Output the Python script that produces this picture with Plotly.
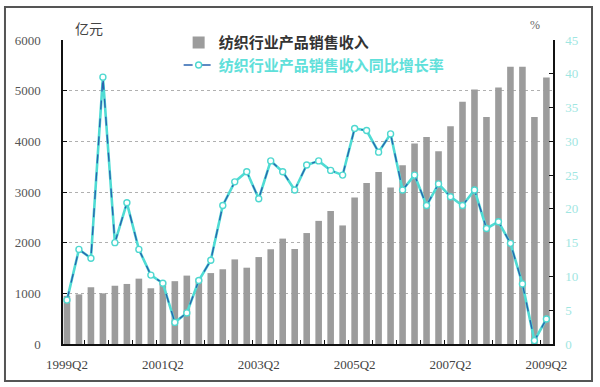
import plotly.graph_objects as go

quarters = [f"{y}Q{q}" for y in range(1999, 2010) for q in range(1, 5)][1:42]
sales = [950, 980, 1120, 1000, 1150, 1185, 1290, 1100, 1230, 1240,
         1350, 1290, 1400, 1475, 1670, 1506, 1716, 1870, 2080, 1875,
         2190, 2430, 2625, 2340, 2890, 3180, 3395, 3090, 3530, 3957,
         4087, 3804, 4298, 4780, 5024, 4482, 5063, 5470, 5470, 4482, 5261]
growth = [6.5, 14.0, 12.7, 39.5, 15.0, 20.9, 14.0, 10.2, 9.0, 3.2,
          4.6, 9.4, 12.4, 20.5, 24.0, 25.5, 21.5, 27.1, 25.5, 22.8,
          26.5, 27.1, 25.7, 25.0, 31.9, 31.6, 28.4, 31.1, 22.8, 25.0,
          20.5, 23.7, 21.8, 20.5, 22.8, 17.1, 18.1, 14.9, 8.9, 0.5, 3.7]
tick_labels = ["1999Q2", "2001Q2", "2003Q2", "2005Q2", "2007Q2", "2009Q2"]
name_sales = "纺织行业产品销售收入"
name_growth = "纺织行业产品销售收入同比增长率"

x = list(range(len(quarters)))
tickvals = [quarters.index(t) for t in tick_labels]

serif = "Liberation Serif"
cjk = "Noto Sans CJK SC"

fig = go.Figure()
fig.add_trace(go.Bar(
    x=x, y=sales, name=f"<b>{name_sales}</b>", width=0.55,
    marker=dict(color="#9c9c9c", line=dict(width=0)),
    yaxis="y", hovertext=quarters,
))
fig.add_trace(go.Scatter(
    x=x, y=growth, mode="lines", showlegend=False, yaxis="y2",
    line=dict(color="#4fdcd4", width=2.6), hoverinfo="skip",
))
fig.add_trace(go.Scatter(
    x=x, y=growth, mode="lines+markers", yaxis="y2",
    name=f"<span style='color:#5fe0da'><b>{name_growth}</b></span>",
    line=dict(color="#2a64b0", width=1.4, dash="dash"),
    marker=dict(symbol="circle", size=6, color="white",
                line=dict(color="#4fd8d0", width=1.4)),
    hovertext=quarters,
))

fig.update_layout(
    width=600, height=387,
    margin=dict(l=63, r=47, t=40, b=43),
    paper_bgcolor="white", plot_bgcolor="white",
    showlegend=True,
    legend=dict(x=0.236, y=1.045, xanchor="left", yanchor="top",
                bgcolor="rgba(0,0,0,0)", font=dict(family=cjk, size=15, color="#333"),
                itemwidth=30, tracegroupgap=2),
    xaxis=dict(
        range=[-0.33, 40.55], tickmode="array", tickvals=tickvals, ticktext=tick_labels,
        ticks="", showgrid=False, zeroline=False,
        showline=True, linecolor="#111", linewidth=1.5,
        ticklabelstandoff=8,
        tickfont=dict(family=serif, size=13, color="#444"),
        minor=dict(tickmode="array", tickvals=[i + 1.5 for i in range(0, 40, 2)],
                   ticks="inside", ticklen=4, tickcolor="#111", tickwidth=1.2, showgrid=False),
    ),
    yaxis=dict(
        range=[0, 6000], dtick=1000, ticks="inside", ticklen=4, tickcolor="#111",
        showline=True, linecolor="#111", linewidth=1.5,
        showgrid=True, gridcolor="#b0b0b0", griddash="dot", gridwidth=1,
        zeroline=False, ticklabelstandoff=18,
        tickfont=dict(family=serif, size=13, color="#555"),
    ),
    yaxis2=dict(
        range=[0, 45], dtick=5, overlaying="y", side="right",
        ticks="inside", ticklen=4, tickcolor="#111",
        showline=True, linecolor="#111", linewidth=1.5,
        showgrid=False, zeroline=False, ticklabelstandoff=8,
        tickfont=dict(family=serif, size=13, color="#9fe6e2"),
    ),
    annotations=[
        dict(text="亿元", xref="paper", yref="paper", x=0.053, y=1.04,
             xanchor="center", yanchor="middle",
             showarrow=False, font=dict(family=cjk, size=14, color="#444")),
        dict(text="%", xref="paper", yref="paper", x=0.963, y=1.05,
             xanchor="center", yanchor="middle",
             showarrow=False, font=dict(family=serif, size=12, color="#666")),
    ],
    shapes=[
        dict(type="rect", xref="paper", yref="paper",
             x0=-0.1184, x1=1.0796, y0=-0.1217, y1=1.1086,
             line=dict(color="#555", width=2), layer="below"),
    ],
)

fig.write_html("out.html")
